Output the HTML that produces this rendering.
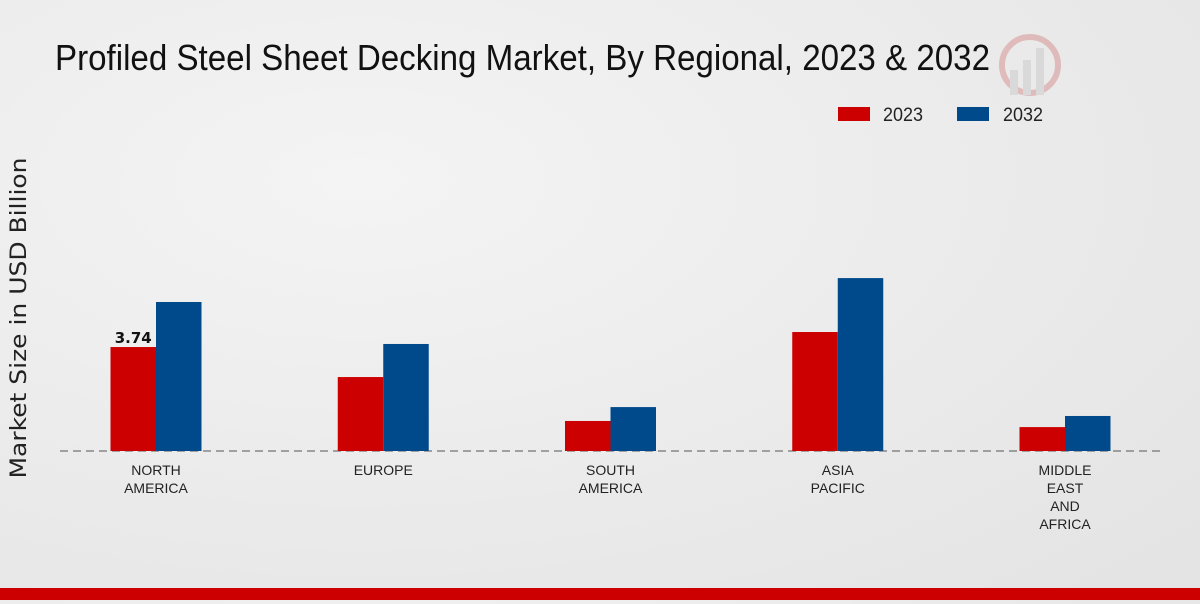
<!DOCTYPE html>
<html><head><meta charset="utf-8"><style>
body{margin:0;width:1200px;height:600px;overflow:hidden;background:radial-gradient(ellipse at 30% 30%,#f4f4f4,#e3e3e3);font-family:"DejaVu Sans","Liberation Sans",sans-serif}
</style></head><body>
<svg width="1200" height="600">
<text x="55" y="70" font-family="Liberation Sans Narrow, Liberation Sans, sans-serif" font-size="36" fill="#111" textLength="935" lengthAdjust="spacingAndGlyphs">Profiled Steel Sheet Decking Market, By Regional, 2023 &amp; 2032</text>
<g opacity="0.35"><circle cx="1030" cy="65" r="28" fill="none" stroke="#c66" stroke-width="6"/><rect x="1010" y="70" width="8" height="25" fill="#bbb"/><rect x="1023" y="60" width="8" height="35" fill="#bbb"/><rect x="1036" y="48" width="8" height="47" fill="#bbb"/></g>
<g font-family="Liberation Sans Narrow, Liberation Sans, sans-serif">
<rect x="838" y="107" width="32" height="14" fill="#cc0000"/>
<text x="883" y="121" font-size="19" fill="#222" textLength="40" lengthAdjust="spacingAndGlyphs">2023</text>
<rect x="957" y="107" width="32" height="14" fill="#004a8c"/>
<text x="1003" y="121" font-size="19" fill="#222" textLength="40" lengthAdjust="spacingAndGlyphs">2032</text>
</g>
<text transform="translate(26,318) rotate(-90)" text-anchor="middle" font-size="22" fill="#222" textLength="321" lengthAdjust="spacingAndGlyphs">Market Size in USD Billion</text>
<line x1="60" y1="451" x2="1160" y2="451" stroke="#555" stroke-dasharray="8,5"/>
<g id="bars"></g>
<rect x="0" y="588" width="1200" height="12" fill="#cc0000"/>
</svg>
<script>
const categories=[["NORTH","AMERICA"],["EUROPE"],["SOUTH","AMERICA"],["ASIA","PACIFIC"],["MIDDLE","EAST","AND","AFRICA"]];
const values2023=[3.74,2.66,1.08,4.28,0.86];
const values2032=[5.36,3.85,1.58,6.22,1.26];
const baseY=451,scale=27.8;
function xc(i){return 156+i*227.25;}
function yh(v){return v*scale;}
const g=document.getElementById('bars');
const ns='http://www.w3.org/2000/svg';
categories.forEach((c,i)=>{
  [[values2023,'#cc0000',-45.5,'bar-2023'],[values2032,'#004a8c',0,'bar-2032']].forEach(([arr,col,off,nm])=>{
    const r=document.createElementNS(ns,'rect');
    const h=yh(arr[i]);
    r.setAttribute('x',xc(i)+off);r.setAttribute('y',baseY-h);
    r.setAttribute('width',45.5);r.setAttribute('height',h);r.setAttribute('fill',col);
    
    
    g.appendChild(r);
  });
  const t=document.createElementNS(ns,'text');
  t.setAttribute('text-anchor','middle');t.setAttribute('font-size','14');t.setAttribute('fill','#222');
  t.setAttribute('font-family','Liberation Sans Narrow, Liberation Sans, sans-serif');
  c.forEach((line,k)=>{const ts=document.createElementNS(ns,'tspan');ts.setAttribute('x',xc(i));ts.setAttribute('y',475+k*18);ts.textContent=line;t.appendChild(ts);});
  
  
  g.appendChild(t);
});
const lbl=document.createElementNS(ns,'text');
lbl.setAttribute('x',xc(0)-22.75);lbl.setAttribute('y',baseY-yh(values2023[0])-4);
lbl.setAttribute('text-anchor','middle');lbl.setAttribute('font-size','15');lbl.setAttribute('font-weight','bold');lbl.setAttribute('fill','#111');
lbl.textContent=values2023[0].toFixed(2);


g.appendChild(lbl);
</script>
</body></html>
